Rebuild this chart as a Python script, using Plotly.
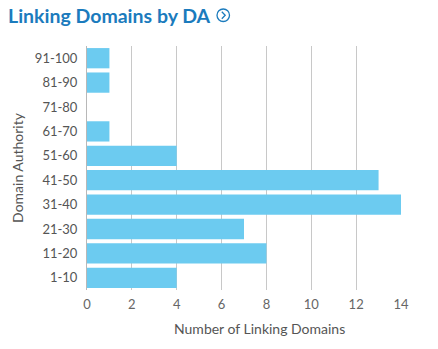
import plotly.graph_objects as go

categories = ["1-10", "11-20", "21-30", "31-40", "41-50", "51-60", "61-70", "71-80", "81-90", "91-100"]
values = [4, 8, 7, 14, 13, 4, 1, 0, 1, 1]
x_ticks = [0, 2, 4, 6, 8, 10, 12, 14]

bar_color = "#6ccbf0"
title_color = "#1b7bbd"

fig = go.Figure(go.Bar(
    x=values, y=categories, orientation="h",
    marker=dict(color=bar_color, line=dict(width=0)),
))

fig.update_layout(
    width=438, height=349,
    margin=dict(l=87, r=37, t=46, b=59),
    paper_bgcolor="white", plot_bgcolor="white",
    bargap=0.17,
    showlegend=False,
    font=dict(family="Lato", color="#555555", size=13),
    xaxis=dict(
        range=[0, 14], tickvals=x_ticks, showgrid=True, gridcolor="#c8c8c8", gridwidth=1,
        zeroline=False, showline=False, ticks="", tickfont=dict(size=13, color="#666666"),
        ticklabelstandoff=5,
        fixedrange=True,
    ),
    yaxis=dict(
        categoryorder="array", categoryarray=categories,
        showgrid=False, zeroline=False, showline=True, linecolor="#b8b8b8", linewidth=1,
        ticks="", ticklen=0, tickfont=dict(size=13, color="#555555"),
        ticklabelstandoff=6,
        title=dict(text="Domain Authority", font=dict(size=14, color="#555555"), standoff=7),
        fixedrange=True,
    ),
)

pw = 438 - 87 - 37
ph = 349 - 46 - 59
def px(xp): return (xp - 87) / pw
def py(yp): return (349 - 59 - yp) / ph

fig.add_annotation(text="Number of Linking Domains", x=px(259.5), y=py(328), xref="paper", yref="paper",
                   showarrow=False, xanchor="center", yanchor="middle",
                   font=dict(family="Lato", size=14, color="#555555"))
fig.add_annotation(text="<b>Linking Domains by DA</b>", x=px(6), y=py(15.5), xref="paper", yref="paper",
                   showarrow=False, xanchor="left", yanchor="middle",
                   font=dict(family="Lato", size=19.5, color=title_color))
fig.add_shape(type="circle", xref="paper", yref="paper",
              x0=px(217), x1=px(229.5), y0=py(21.5), y1=py(9),
              line=dict(color=title_color, width=1.3))
fig.add_shape(type="path", xref="paper", yref="paper",
              path=f"M {px(221.8)} {py(11.8)} L {px(225.2)} {py(15.3)} L {px(221.8)} {py(18.8)}",
              line=dict(color=title_color, width=1.3))

fig.write_html("out.html")
